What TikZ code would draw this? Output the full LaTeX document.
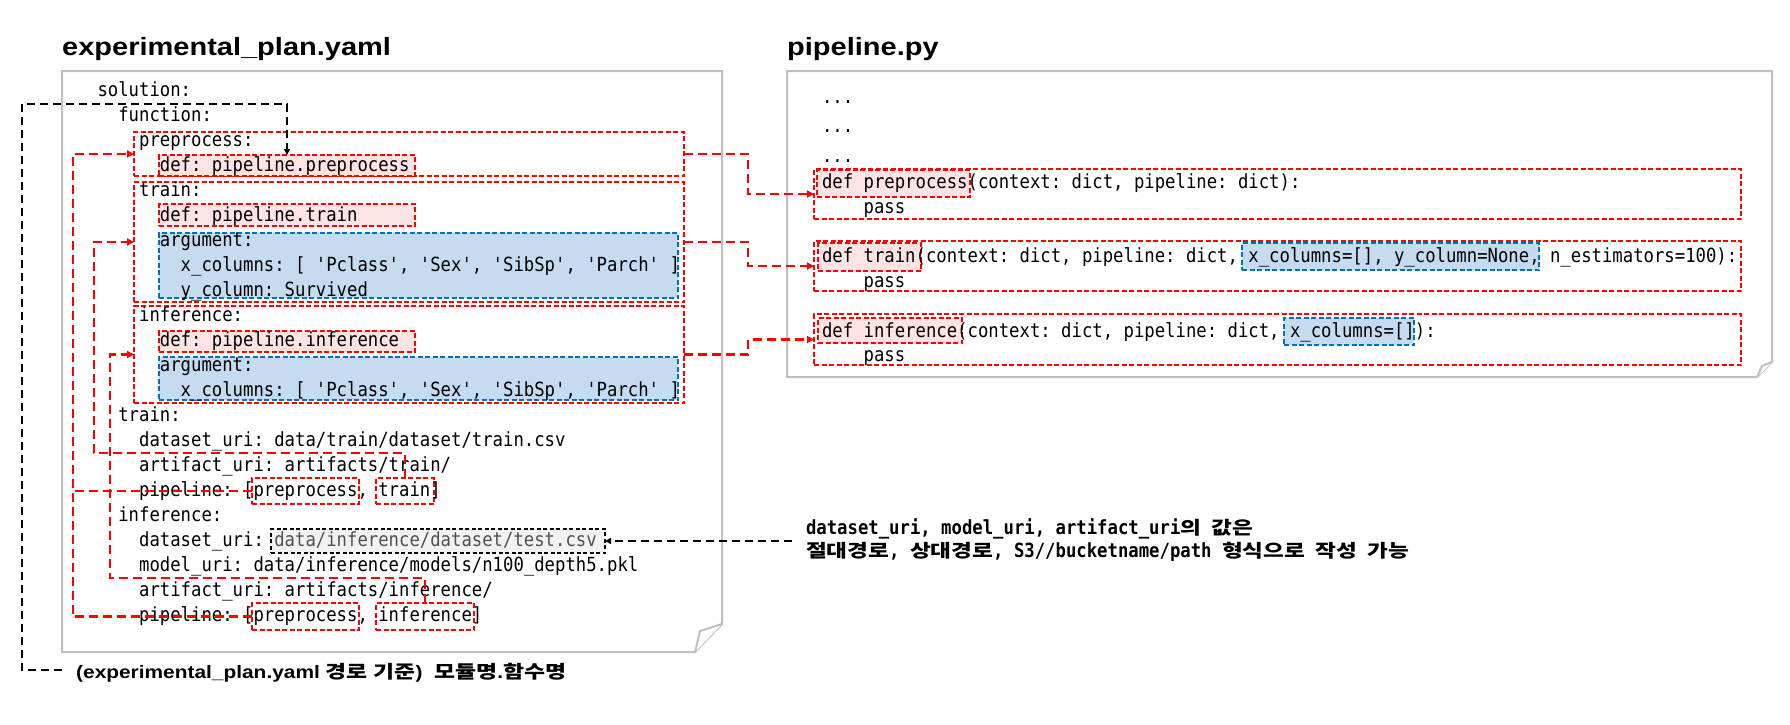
\documentclass[tikz,border=0pt]{standalone}
\usepackage{fontspec}
\usepackage{graphicx}
\setmonofont[FakeStretch=0.886]{DejaVu Sans Mono}
\newfontfamily\titlefont[FakeStretch=1.16]{Liberation Sans}
\newfontfamily\kr{Noto Sans CJK KR}
\usetikzlibrary{arrows.meta}
\frenchspacing
\definecolor{rd}{HTML}{FF0000}
\definecolor{pk}{HTML}{FDE3E3}
\definecolor{bl}{HTML}{C5DCF0}
\definecolor{blb}{HTML}{0070C0}
\definecolor{gr}{HTML}{BFBFBF}
\definecolor{cg}{HTML}{F2F2F2}
\definecolor{csvtxt}{HTML}{505050}
% #1 = target width in pt, #2 = Hangul text
\newcommand\K[2]{\resizebox{#1pt}{\height}{\kr\fontsize{18}{23}\selectfont #2}}
\tikzset{
  code/.style={font=\ttfamily\fontsize{19.5}{25}\selectfont, anchor=base west, inner sep=0pt, outer sep=0pt},
  codeb/.style={code, font=\ttfamily\bfseries\fontsize{19.5}{25}\selectfont},
  ttl/.style={font=\titlefont\bfseries\fontsize{25}{30}\selectfont, anchor=base west, inner sep=0pt},
  notef/.style={font=\titlefont\bfseries\fontsize{18}{23}\selectfont, anchor=base west, inner sep=0pt},
  sz/.style 2 args={minimum width=#1pt, minimum height=#2pt},
  bx/.style={inner sep=0pt, outer sep=0pt, anchor=north west},
  redbox/.style={bx, draw=rd, line width=2pt, dash pattern=on 5pt off 2.5pt},
  pinkbox/.style={redbox, fill=pk},
  bluebox/.style={bx, draw=blb, fill=bl, line width=2pt, dash pattern=on 5pt off 2.5pt},
  csvbox/.style={bx, draw=black, fill=cg, line width=2pt, dash pattern=on 4pt off 2.5pt},
  panel/.style={draw=gr, line width=2pt, fill=white, line join=miter},
  rc/.style={draw=rd, line width=2.5pt, dash pattern=on 9pt off 5pt},
  rarr/.style={rc, -{Triangle[length=7pt,width=7pt]}},
  bk/.style={draw=black, line width=2pt, dash pattern=on 8pt off 5pt},
  barr/.style={bk, -{Triangle[length=6pt,width=6pt]}},
}
\begin{document}
\begin{tikzpicture}[x=1pt,y=-1pt]
\useasboundingbox (0,0) rectangle (1790,724);
\fill[white] (0,0) rectangle (1790,724);

% panels
\draw[panel] (62,71) -- (722,71) -- (722,624) -- (695,652) -- (62,652) -- cycle;
\draw[panel] (722,624) -- (700,631) -- (695,652);
\draw[panel] (787,71) -- (1772,71) -- (1772,362) -- (1757,377) -- (787,377) -- cycle;
\draw[panel] (1772,362) -- (1762,366) -- (1757,377);

% titles
\node[ttl] (t1) at (62,55) {experimental\_plan.yaml};
\node[ttl] (t2) at (787,55) {pipeline.py};

% left boxes
\node[redbox, sz={550}{44}] (fPre) at (134,132) {};
\node[redbox, sz={550}{120}] (fTr) at (134,182) {};
\node[redbox, sz={550}{97}] (fInf) at (134,306) {};
\node[pinkbox, sz={256}{21}] (pdPre) at (159,155) {};
\node[pinkbox, sz={256}{22}] (pdTr) at (159,204) {};
\node[pinkbox, sz={256}{21}] (pdInf) at (159,331) {};
\node[bluebox, sz={519}{65}] (baTr) at (159,233) {};
\node[bluebox, sz={519}{43}] (baInf) at (159,357) {};
\node[redbox, sz={107}{26}] (sPre1) at (252,478) {};
\node[redbox, sz={58}{26}] (sTr) at (376,478) {};
\node[redbox, sz={107}{27}] (sPre2) at (252,603) {};
\node[redbox, sz={98}{27}] (sInf) at (376,603) {};
\node[csvbox, sz={334}{24}] (csv) at (271,529) {};

% right boxes
\node[redbox, sz={927}{50}] (rPre) at (814,169) {};
\node[redbox, sz={927}{50}] (rTr) at (814,241) {};
\node[redbox, sz={927}{51}] (rInf) at (814,314) {};
\node[pinkbox, sz={153}{27}] (rpPre) at (817,170) {};
\node[pinkbox, sz={103}{28}] (rpTr) at (818,243) {};
\node[pinkbox, sz={144}{25}] (rpInf) at (818,318) {};
\node[bluebox, sz={297}{27}] (rbTr) at (1242,243) {};
\node[bluebox, sz={130}{27}] (rbInf) at (1284,318) {};

% left code
\node[code] (l0) at (97.5,96.7) {solution:};
\node[code] (l1) at (118.3,121.7) {function:};
\node[code] (l2) at (139.1,146.7) {preprocess:};
\node[code] (l3) at (159.9,171.7) {def: pipeline.preprocess};
\node[code] (l4) at (139.1,196.7) {train:};
\node[code] (l5) at (159.9,221.7) {def: pipeline.train};
\node[code] (l6) at (159.9,246.7) {argument:};
\node[code] (l7) at (180.7,271.7) {x\_columns: [ 'Pclass', 'Sex', 'SibSp', 'Parch' ]};
\node[code] (l8) at (180.7,296.7) {y\_column: Survived};
\node[code] (l9) at (139.1,321.7) {inference:};
\node[code] (l10) at (159.9,346.7) {def: pipeline.inference};
\node[code] (l11) at (159.9,371.7) {argument:};
\node[code] (l12) at (180.7,396.7) {x\_columns: [ 'Pclass', 'Sex', 'SibSp', 'Parch' ]};
\node[code] (l13) at (118.3,421.7) {train:};
\node[code] (l14) at (139.1,446.7) {dataset\_uri: data/train/dataset/train.csv};
\node[code] (l15) at (139.1,471.7) {artifact\_uri: artifacts/train/};
\node[code] (l16) at (139.1,496.7) {pipeline: [preprocess, train]};
\node[code] (l17) at (118.3,521.7) {inference:};
\node[code] (l18) at (139.1,546.7) {dataset\_uri: \textcolor{csvtxt}{data/inference/dataset/test.csv}};
\node[code] (l19) at (139.1,571.7) {model\_uri: data/inference/models/n100\_depth5.pkl};
\node[code] (l20) at (139.1,596.7) {artifact\_uri: artifacts/inference/};
\node[code] (l21) at (139.1,621.7) {pipeline: [preprocess, inference]};

% right code
\node[code] (r0) at (822,103) {...};
\node[code] (r1) at (822,132.5) {...};
\node[code] (r2) at (822,162.5) {...};
\node[code] (r3) at (822,188) {def preprocess(context: dict, pipeline: dict):};
\node[code] (r4) at (863.6,213) {pass};
\node[code] (r5) at (822,262.7) {def train(context: dict, pipeline: dict, x\_columns=[], y\_column=None, n\_estimators=100):};
\node[code] (r6) at (863.6,287.7) {pass};
\node[code] (r7) at (822,337.3) {def inference(context: dict, pipeline: dict, x\_columns=[]):};
\node[code] (r8) at (863.6,361.5) {pass};

% annotations
\node[codeb] (ann1) at (806,534) {dataset\_uri, model\_uri, artifact\_uri\K{20.8}{의} \K{41.6}{값은}};
\node[codeb] (ann2) at (806,557) {\K{83.2}{절대경로}, \K{83.2}{상대경로}, S3//bucketname/path \K{83.2}{형식으로} \K{41.6}{작성} \K{41.6}{가능}};
\node[notef] (note) at (76,678) {(experimental\_plan.yaml \K{42}{경로} \K{42}{기준})\hspace{12pt}\K{63}{모듈명}.\K{63}{함수명}};

% connectors
\coordinate (busA) at (73,154);
\coordinate (busA2) at (73,491);
\coordinate (busB) at (94,453);
\coordinate (busC) at (110,578);
\draw[rarr] (sPre1.west) -| (busA) -- (fPre.west);
\draw[rc] (sPre2.west) -| (busA2);
\draw[rarr] (sTr.north) |- (busB) |- (fTr.west);
\draw[rarr] (sInf.north) |- (busC) |- (fInf.west);

\draw[rarr] (fPre.east) -- ++(64,0) |- (rPre.west);
\draw[rarr] (fTr.east) -- ++(64,0) |- (rTr.west);
\draw[rarr] (fInf.east) -- ++(64,0) |- (rInf.west);

\coordinate (annL) at (792,541);
\draw[barr] (annL) -- (csv.east);
\coordinate (noteL) at (62,670);
\coordinate (blk) at (22,104);
\draw[barr] (noteL) -| (blk) -| (pdPre.north);
\end{tikzpicture}
\end{document}
